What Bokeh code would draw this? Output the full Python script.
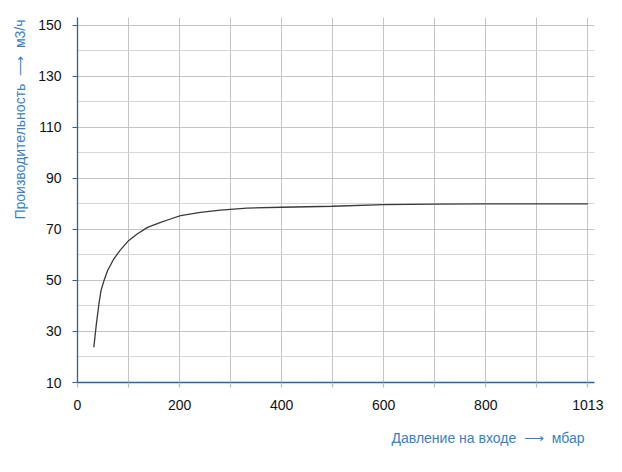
from bokeh.plotting import figure
from bokeh.models import FixedTicker, Range1d, Title
from bokeh.embed import file_html
from bokeh.resources import INLINE

# data
pressure = [32, 37, 42, 46, 52, 59, 71, 83, 100, 117, 137, 163, 182, 202,
            241, 280, 332, 400, 500, 600, 700, 800, 900, 1000]
flow = [23.8, 33.0, 40.8, 46.0, 50.0, 53.9, 58.4, 61.7, 65.6, 68.2, 70.8, 72.8,
        74.1, 75.4, 76.7, 77.6, 78.4, 78.7, 79.1, 79.7, 79.9, 80.0, 80.0, 80.0]

x_ticks = [0, 100, 200, 300, 400, 500, 600, 700, 800, 900, 1000]
x_labels = {0: "0", 100: "", 200: "200", 300: "", 400: "400", 500: "",
            600: "600", 700: "", 800: "800", 900: "", 1000: "1013"}
y_ticks = [10, 30, 50, 70, 90, 110, 130, 150]
y_minor = [20, 40, 60, 80, 100, 120, 140]

x_title = "Давление на входе"
x_unit = "мбар"
y_title = "Производительность"
y_unit = "м3/ч"

BLUE_TXT = "#3a7fc6"
AXIS = "#2f6097"
FONT = "Liberation Sans"
NB = "\u00a0"

p = figure(width=614, height=464, output_backend="svg", toolbar_location=None,
           x_range=Range1d(0, 1013), y_range=Range1d(10, 153.1),
           min_border_left=77, min_border_right=20, min_border_top=17,
           min_border_bottom=82)
p.outline_line_color = None
p.background_fill_color = "white"

p.line(pressure, flow, line_color="#3a3a3a", line_width=1.3)

# axes
for ax in (p.xaxis[0], p.yaxis[0]):
    ax.axis_line_color = AXIS
    ax.axis_line_width = 1.3
    ax.major_tick_line_color = AXIS
    ax.major_tick_line_width = 1.2
    ax.major_tick_out = 5
    ax.major_tick_in = 0
    ax.minor_tick_line_color = None
    ax.major_label_text_font = FONT
    ax.major_label_text_font_size = "14px"
    ax.major_label_text_color = "#111111"

p.xaxis.ticker = FixedTicker(ticks=x_ticks)
p.xaxis.major_label_overrides = x_labels
p.xaxis.major_label_standoff = 12
p.xaxis.major_tick_line_color = "#bbbbbb"

p.yaxis.ticker = FixedTicker(ticks=y_ticks, minor_ticks=y_minor)
p.yaxis.major_label_standoff = 11

p.xgrid.grid_line_color = "#c4c4c4"
p.xgrid.grid_line_width = 1
p.ygrid.grid_line_color = "#c4c4c4"
p.ygrid.minor_grid_line_color = "#d6d6d6"
p.ygrid.minor_grid_line_width = 1

# axis titles
p.add_layout(Title(text=f"{x_title}{NB} ⟶ {NB}{x_unit}", align="right", offset=10,
                   standoff=30, text_font=FONT, text_font_size="14px",
                   text_font_style="normal", text_color=BLUE_TXT), "below")
p.add_layout(Title(text=f"{y_title}{NB} ⟶ {NB}{y_unit}", align="right", offset=2,
                   standoff=16, text_font=FONT, text_font_size="14px",
                   text_font_style="normal", text_color=BLUE_TXT), "left")

open("out.html", "w").write(file_html(p, INLINE))
